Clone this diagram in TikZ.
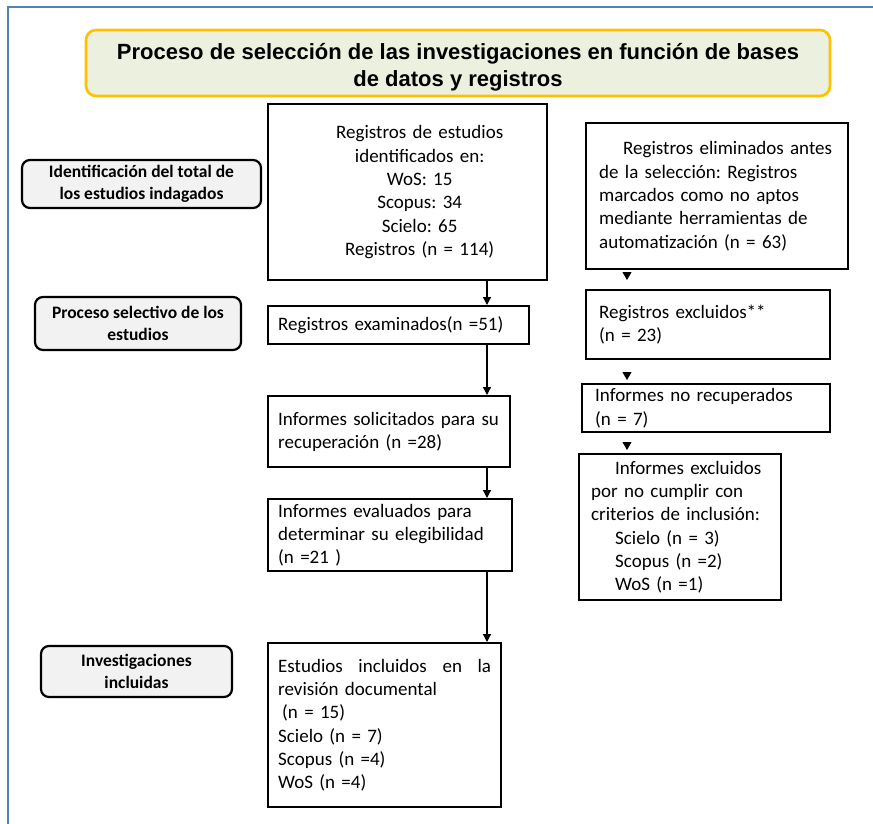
\documentclass[tikz,border=0pt]{standalone}
\usepackage{fontspec}
\setmainfont{Carlito}
\newfontfamily\titulofont{Liberation Sans}
\usetikzlibrary{arrows.meta}
\frenchspacing

\definecolor{marco}{RGB}{79,129,189}
\definecolor{oro}{RGB}{255,192,0}
\definecolor{verdeclaro}{RGB}{235,241,222}
\definecolor{grisclaro}{RGB}{242,242,242}

\newcommand{\cuerpo}{\fontsize{19}{23.3}\selectfont}
\newcommand{\sangria}{\hspace*{24pt}}

\tikzset{
  caja/.style={draw, line width=2.4pt, anchor=north west, align=left,
    inner xsep=10pt, inner ysep=0pt, font=\cuerpo},
  etapa/.style={draw, fill=grisclaro, line width=2.2pt, rounded corners=8pt,
    align=center, inner sep=0pt, font=\fontsize{17.5}{22}\selectfont\bfseries},
  flecha/.style={line width=1.3pt, -{Triangle[length=8pt,width=8pt]}},
  punta/.style={line width=1pt, -{Triangle[length=8pt,width=9pt]}},
}

\begin{document}
\begin{tikzpicture}[x=1pt,y=-1pt]
\useasboundingbox (0,0) rectangle (873,824);
\draw[marco, line width=2.4pt] (873,7) -- (8,7) -- (8,824);

% titulo
\node[draw=oro, fill=verdeclaro, line width=2.6pt, rounded corners=10pt,
  minimum width=744pt, minimum height=66pt, inner sep=0pt, align=center,
  font=\titulofont\bfseries\fontsize{22}{27}\selectfont] (titulo) at (458,63)
  {\rule{0pt}{24pt}Proceso de selección de las investigaciones en función de bases\\de datos y registros};

% etapas
\node[etapa, minimum width=239pt, minimum height=48pt] (identificacion) at (141.5,184)
  {Identificación del total de\\los estudios indagados};
\node[etapa, minimum width=206pt, minimum height=53pt] (seleccion) at (138,323.5)
  {Proceso selectivo de los\\estudios};
\node[etapa, minimum width=191pt, minimum height=51pt] (incluidas) at (136.5,671.5)
  {Investigaciones\\incluidas};

% columna central
\node[caja, align=center, text width=259pt, minimum height=176pt] (registros) at (267,103)
  {\sangria Registros de estudios\\
   \sangria identificados en:\\
   \sangria WoS: 15\\
   \sangria Scopus: 34\\
   \sangria Scielo: 65\\
   \sangria Registros (n = 114)};
\node[caja, text width=241pt, minimum height=38pt] (examinados) at (267,305)
  {Registros examinados(n =51)};
\node[caja, text width=222pt, minimum height=71pt] (solicitados) at (267,395)
  {Informes solicitados para su\\recuperación (n =28)};
\node[caja, text width=224pt, minimum height=72pt] (evaluados) at (267,498)
  {Informes evaluados para\\determinar su elegibilidad\\(n =21 )};
\node[caja, text width=213pt, minimum height=164pt] (incluidos) at (267,642)
  {Estudios\hfill incluidos\hfill en\hfill la\\
   revisión documental\\
   \hspace*{4pt}(n = 15)\\
   Scielo (n = 7)\\
   Scopus (n =4)\\
   WoS (n =4)};

% columna derecha
\node[caja, inner xsep=13pt, text width=236pt, minimum height=146pt] (eliminados) at (585,122)
  {\sangria Registros eliminados antes\\
   de la selección: Registros\\
   marcados como no aptos\\
   mediante herramientas de\\
   automatización (n = 63)};
\node[caja, inner xsep=13pt, text width=218pt, minimum height=69pt] (excluidos) at (585,289)
  {Registros excluidos**\\(n = 23)};
\node[caja, inner xsep=13pt, text width=222pt, minimum height=48pt] (norecuperados) at (581,383)
  {Informes no recuperados\\(n = 7)};
\node[caja, inner xsep=12pt, text width=178pt, minimum height=146pt] (noaptos) at (578,453)
  {\sangria Informes excluidos\\
   por no cumplir con\\
   criterios de inclusión:\\
   \sangria Scielo (n = 3)\\
   \sangria Scopus (n =2)\\
   \sangria WoS (n =1)};

% conectores
\coordinate (eje) at (487,0);
\coordinate (ejeR) at (627,0);
\draw[flecha] (registros.south -| eje) -- (examinados.north -| eje);
\draw[flecha] (examinados.south -| eje) -- (solicitados.north -| eje);
\draw[flecha] (solicitados.south -| eje) -- (evaluados.north -| eje);
\draw[flecha] (evaluados.south -| eje) -- (incluidos.north -| eje);
\draw[punta, shorten <=4pt, shorten >=9pt] (eliminados.south -| ejeR) -- (excluidos.north -| ejeR);
\draw[punta, shorten <=14pt, shorten >=3pt] (excluidos.south -| ejeR) -- (norecuperados.north -| ejeR);
\draw[punta, shorten <=11pt, shorten >=3pt] (norecuperados.south -| ejeR) -- (noaptos.north -| ejeR);

\end{tikzpicture}
\end{document}
